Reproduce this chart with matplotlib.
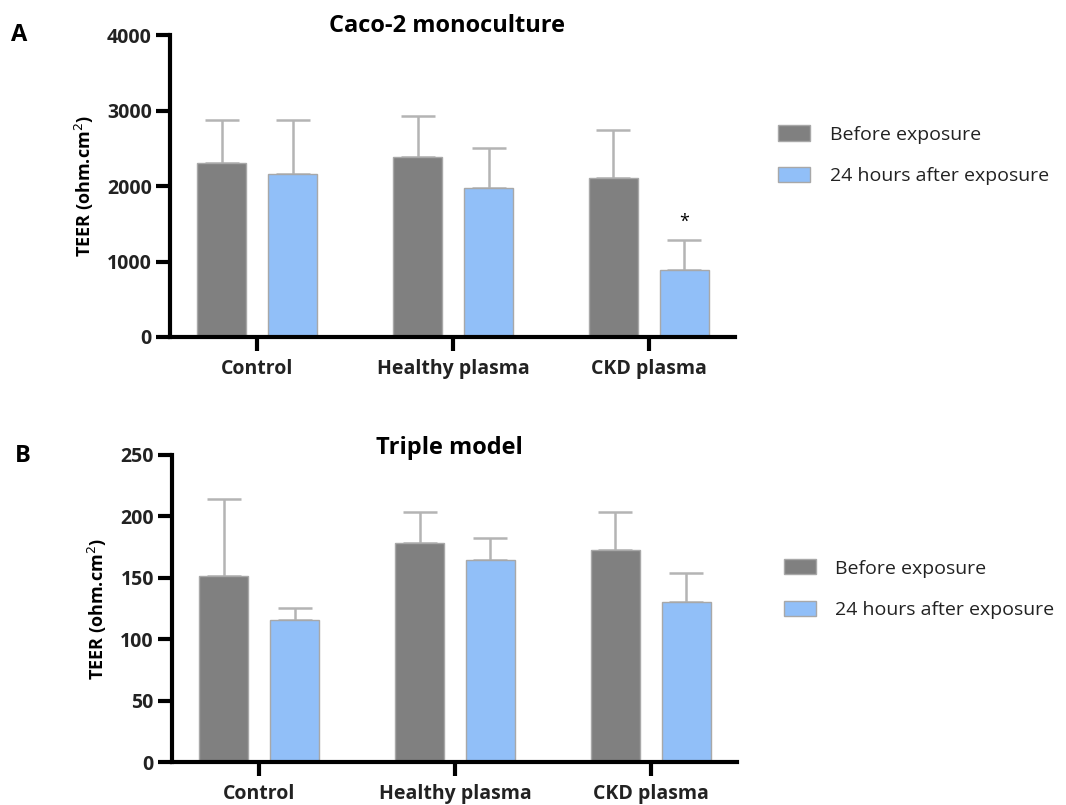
import matplotlib
matplotlib.use("Agg")
import matplotlib.pyplot as plt
import numpy as np
from matplotlib.patches import Patch

categories = ["Control", "Healthy plasma", "CKD plasma"]
series_names = ["Before exposure", "24 hours after exposure"]

# Panel A: Caco-2 monoculture
a_before = [2305, 2384, 2106]
a_before_err = [570, 545, 640]
a_after = [2159, 1975, 887]
a_after_err = [715, 530, 400]
a_sig = ["", "", "*"]

# Panel B: Triple model
b_before = [151.5, 178, 172.6]
b_before_err = [62.5, 25.5, 31]
b_after = [115.6, 164.5, 130]
b_after_err = [9.5, 17.5, 24]

a_ticks = [0, 1000, 2000, 3000, 4000]
b_ticks = [0, 50, 100, 150, 200, 250]

GRAY = "#808080"
BLUE = "#91bff8"
EDGE = "#a8a8a8"
ERR = "#b4b4b4"

plt.rcParams['font.family'] = ['Open Sans', 'DejaVu Sans']

fig = plt.figure(figsize=(10.66, 8.05), dpi=100)

def panel(rect, before, berr, after, aerr, ticks, title, title_pos, letter, letter_pos,
          legend_pos, sig=None):
    ax = fig.add_axes(rect)
    x = np.arange(len(categories))
    w = 0.25
    off = 0.181
    ax.bar(x - off, before, w, color=GRAY, edgecolor=EDGE, linewidth=1.0, zorder=2)
    ax.bar(x + off, after, w, color=BLUE, edgecolor=EDGE, linewidth=1.0, zorder=2)
    ax.errorbar(x - off, before, yerr=[np.zeros(3), berr], fmt='none', ecolor=ERR,
                elinewidth=1.8, capsize=12, capthick=1.8, zorder=1)
    ax.errorbar(x + off, after, yerr=[np.zeros(3), aerr], fmt='none', ecolor=ERR,
                elinewidth=1.8, capsize=12, capthick=1.8, zorder=1)
    if sig:
        for i, s in enumerate(sig):
            if s:
                ax.text(x[i] + off, after[i] + aerr[i] + 0.06 * ticks[-1], s,
                        ha='center', va='center', fontsize=13, color='black')
    ax.set_xlim(-0.446, 2.44)
    ax.set_ylim(0, ticks[-1])
    ax.set_yticks(ticks)
    ax.set_xticks(x)
    ax.set_xticklabels(categories, fontsize=14, fontweight='bold', color='#222222')
    for lab in ax.get_yticklabels():
        lab.set_fontsize(14)
        lab.set_fontweight('bold')
        lab.set_color('#222222')
    for s in ['top', 'right']:
        ax.spines[s].set_visible(False)
    for s in ['left', 'bottom']:
        ax.spines[s].set_linewidth(3)
        ax.spines[s].set_color('black')
    ax.tick_params(axis='both', width=3, length=10, color='black', pad=3)
    ax.tick_params(axis='x', pad=6)
    ax.set_ylabel("TEER (ohm.cm$^2$)", fontsize=13, fontweight='bold', labelpad=8)
    fig.text(title_pos[0], title_pos[1], title, fontsize=17, fontweight='bold',
             ha='center', va='center')
    fig.text(letter_pos[0], letter_pos[1], letter, fontsize=17, fontweight='bold',
             ha='left', va='center')
    handles = [Patch(facecolor=GRAY, edgecolor=EDGE), Patch(facecolor=BLUE, edgecolor=EDGE)]
    fig.legend(handles, series_names, loc='center left', bbox_to_anchor=legend_pos,
               frameon=False, fontsize=14, labelcolor='#222222', handlelength=1.65,
               handleheight=0.82, labelspacing=1.2, handletextpad=1.0)
    return ax

panel([0.1595, 0.5814, 0.53, 0.375], a_before, a_before_err, a_after, a_after_err,
      a_ticks, "Caco-2 monoculture", (0.4195, 0.968), "A", (0.010, 0.957),
      (0.7135, 0.807), a_sig)
panel([0.1613, 0.0534, 0.53, 0.3814], b_before, b_before_err, b_after, b_after_err,
      b_ticks, "Triple model", (0.422, 0.444), "B", (0.014, 0.434), (0.719, 0.268))

fig.savefig("out.png", dpi=100)
